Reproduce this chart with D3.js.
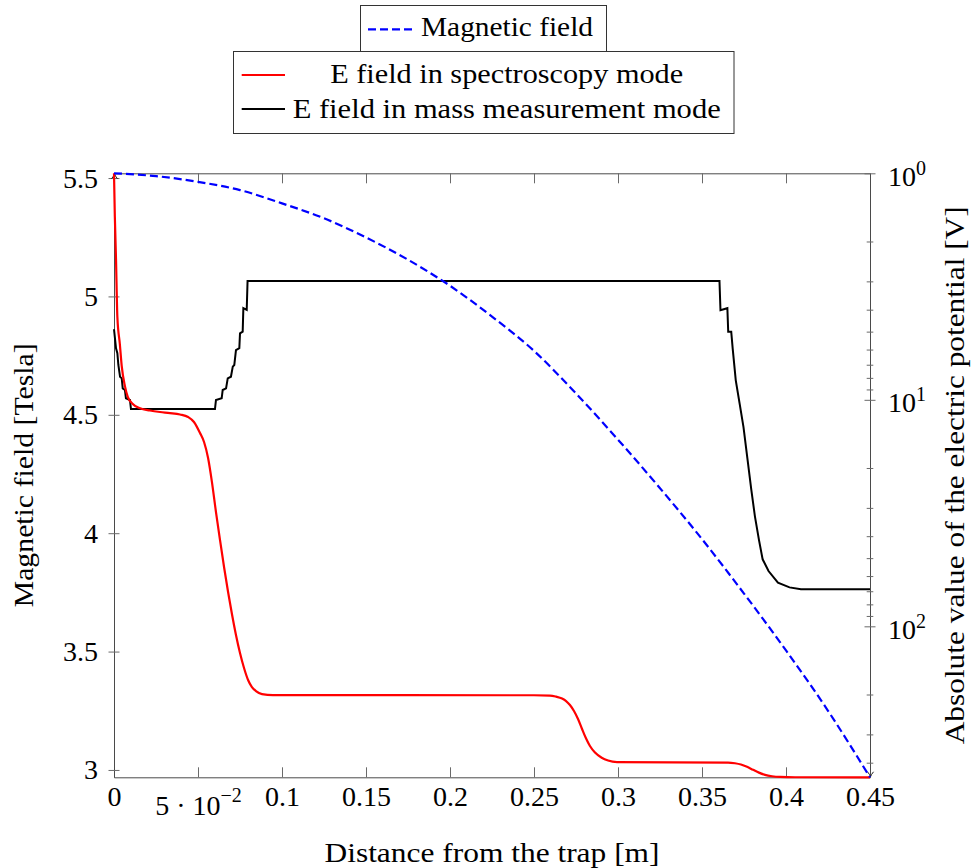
<!DOCTYPE html>
<html>
<head>
<meta charset="utf-8">
<script src="https://cdn.jsdelivr.net/npm/d3@7"></script>
<style>
  body { margin: 0; background: #ffffff; }
  svg { display: block; }
</style>
</head>
<body>
<svg id="chart" width="976" height="868"></svg>
<script>
// ---------------- data ----------------
const xTicks = [0, 0.05, 0.1, 0.15, 0.2, 0.25, 0.3, 0.35, 0.4, 0.45];
const xTickLabels = ["0", "5 · 10^−2", "0.1", "0.15", "0.2", "0.25", "0.3", "0.35", "0.4", "0.45"];
const yLeftTicks = [3, 3.5, 4, 4.5, 5, 5.5];
const yLeftTickLabels = ["3", "3.5", "4", "4.5", "5", "5.5"];
const yRightTicks = [1, 10, 100];
const yRightTickLabels = ["10^0", "10^1", "10^2"];
const yRightMinorTicks = [2, 3, 4, 5, 6, 7, 8, 9, 20, 30, 40, 50, 60, 70, 80, 90, 200, 300, 400];

// Magnetic field [Tesla] (left axis)
const blueX = [0, 0.025, 0.05, 0.075, 0.1, 0.125, 0.15, 0.175, 0.2, 0.225, 0.25, 0.275, 0.3, 0.325, 0.35, 0.375, 0.4, 0.425, 0.45];
const blueB = [5.520, 5.508, 5.484, 5.449, 5.393, 5.330, 5.249, 5.155, 5.045, 4.915, 4.770, 4.590, 4.395, 4.190, 3.975, 3.745, 3.505, 3.250, 2.969];

// E field in spectroscopy mode, |potential| [V] (right log axis)
const redX = [0, 0.0005, 0.0012, 0.0020, 0.0035, 0.0046, 0.0065, 0.0082, 0.0110, 0.0155,
              0.0214, 0.0274, 0.0333, 0.0393, 0.0441, 0.0476, 0.0512, 0.0536, 0.0560, 0.0583,
              0.0607, 0.0631, 0.0655, 0.0679, 0.0702, 0.0726, 0.0750, 0.0774, 0.0798, 0.0821,
              0.0845, 0.0881, 0.0946, 0.2500, 0.2595, 0.2631, 0.2667, 0.2691, 0.2714, 0.2738,
              0.2762, 0.2786, 0.2810, 0.2833, 0.2863, 0.2903, 0.2941, 0.2994, 0.3655, 0.3696,
              0.3732, 0.3768, 0.3804, 0.3839, 0.3875, 0.3917, 0.3964, 0.4054, 0.45];
const redV = [1.0, 1.55, 2.4, 4.3, 5.7, 7.1, 8.7, 9.7, 10.4, 10.9,
              11.15, 11.32, 11.44, 11.61, 11.91, 12.53, 14.02, 15.36, 18.07, 23.07,
              31.29, 41.59, 54.73, 70.56, 88.24, 109.2, 131.2, 152.8, 172.6, 185.4,
              193.1, 199.1, 201.1, 201.5, 202.1, 204.4, 208.4, 213.7, 222.6, 236.6,
              256.6, 284.1, 312.9, 337.7, 360.7, 380.3, 391.3, 397.3, 399.3, 402.2,
              407.5, 417.2, 430.1, 442.5, 452.5, 459.0, 462.3, 463.7, 464.0];

// E field in mass measurement mode, |potential| [V] (right log axis)
const blackX = [0, 0.0012, 0.0020, 0.0026, 0.0036, 0.0046, 0.0052, 0.0065, 0.0071, 0.0095,
                0.0101, 0.0601, 0.0607, 0.0641, 0.0647, 0.0667, 0.0677, 0.0696, 0.0707, 0.0716,
                0.0726, 0.0746, 0.0750, 0.0766, 0.0770, 0.0790, 0.0795, 0.3604, 0.3610, 0.3651,
                0.3656, 0.3674, 0.3683, 0.3701, 0.3724, 0.3747, 0.3770, 0.3793, 0.3815, 0.3839,
                0.3861, 0.3896, 0.3952, 0.4021, 0.4089, 0.45];
const blackV = [4.88, 5.92, 6.23, 7.02, 7.91, 8.04, 8.90, 9.05, 9.85, 10.02,
                10.98, 10.98, 10.02, 9.85, 9.05, 8.90, 8.04, 7.91, 7.14, 7.02,
                6.03, 5.92, 5.09, 5.00, 3.94, 4.01, 2.99, 2.99, 4.02, 3.94,
                5.00, 5.00, 5.97, 8.20, 10.4, 13.2, 18.1, 24.8, 32.7, 41.5,
                50.6, 57.0, 64.1, 67.3, 68.6, 68.6];

const seriesNames = ["Magnetic field", "E field in spectroscopy mode", "E field in mass measurement mode"];
const axisTitles = { x: "Distance from the trap [m]", yLeft: "Magnetic field [Tesla]", yRight: "Absolute value of the electric potential [V]" };

// ---------------- font detection ----------------
function pickFont(cands) {
  const c = document.createElement("canvas").getContext("2d");
  const s = "Magnetic field 0123456789 Wy";
  for (const f of cands) {
    for (const base of ["monospace", "sans-serif"]) {
      c.font = `28px ${base}`; const w0 = c.measureText(s).width;
      c.font = `28px "${f}", ${base}`; const w1 = c.measureText(s).width;
      if (Math.abs(w1 - w0) > 0.5) return `"${f}"`;
    }
  }
  return "serif";
}
const FONT = pickFont(["Liberation Serif", "DejaVu Serif", "Noto Serif", "Times New Roman", "Tinos"]);

// ---------------- layout ----------------
const L = 114, R = 870, T = 173.3, B = 777.3;
const FS = 28, SUPFS = 20;
const axisColor = "#4a4a4a", tickColor = "#6a6a6a";

const svg = d3.select("#chart");

const x = d3.scaleLinear().domain([0, 0.45]).range([L, R]);
const yL = d3.scaleLinear().domain(d3.extent(blueB)).range([B, T]);
const yR = d3.scaleLog().domain(d3.extent(redV.concat(blackV))).range([T, B]);

function renderLabel(sel, label, supShift) {
  sel.each(function () {
    const t = d3.select(this);
    const parts = label.split("^");
    t.text(null);
    t.append("tspan").text(parts[0]);
    if (parts.length > 1) {
      t.append("tspan").attr("font-size", SUPFS).attr("dy", -supShift).text(parts[1]);
    }
  });
}

function styleAxis(g) {
  g.attr("font-family", FONT).attr("font-size", FS);
  g.select(".domain").attr("stroke", axisColor).attr("stroke-width", 1);
  g.selectAll(".tick line").attr("stroke", tickColor).attr("stroke-width", 1);
  g.selectAll(".tick text").attr("fill", "#000");
}

// bottom axis
const gx = svg.append("g").attr("transform", `translate(0,${B})`)
  .call(d3.axisBottom(x).tickValues(xTicks).tickSizeInner(-10).tickSizeOuter(0).tickPadding(9)
    .tickFormat((d, i) => xTickLabels[i]));
styleAxis(gx);
gx.selectAll(".tick text").each(function (d, i) {
  const lab = xTickLabels[i];
  const t = d3.select(this);
  if (lab.includes("^")) {
    renderLabel(t, lab, 13);
    t.attr("dy", "1.03em");
  }
});

// top axis
const gxt = svg.append("g").attr("transform", `translate(0,${T})`)
  .call(d3.axisTop(x).tickValues(xTicks).tickSizeInner(-10).tickSizeOuter(0).tickFormat(""));
styleAxis(gxt);

// left axis
const gyl = svg.append("g").attr("transform", `translate(${L},0)`)
  .call(d3.axisLeft(yL).tickValues(yLeftTicks).tickSizeInner(6).tickSizeOuter(0).tickPadding(10)
    .tickFormat((d, i) => yLeftTickLabels[i]));
styleAxis(gyl);
gyl.selectAll(".tick line").attr("x1", 5.5).attr("x2", -5.5);

// right axis (log, reversed)
const gyr = svg.append("g").attr("transform", `translate(${R},0)`)
  .call(d3.axisRight(yR).tickValues(yRightTicks).tickSizeInner(5.5).tickSizeOuter(0).tickPadding(12.5)
    .tickFormat((d, i) => yRightTickLabels[i]));
styleAxis(gyr);
gyr.selectAll(".tick line").attr("x1", -5.5);
gyr.selectAll(".tick text").attr("dy", "0.43em").each(function (d, i) {
  renderLabel(d3.select(this), yRightTickLabels[i], 11);
});
const gyrm = svg.append("g").attr("transform", `translate(${R},0)`)
  .call(d3.axisRight(yR).tickValues(yRightMinorTicks).tickSizeInner(3.3).tickSizeOuter(0).tickFormat(""));
styleAxis(gyrm);
gyrm.select(".domain").remove();
gyrm.selectAll(".tick line").attr("x1", -3.3);

// axis arrow heads (top of left axis, bottom of right axis)
function arrowHead(cx, cy, dir) {
  const s = dir;
  svg.append("path")
    .attr("d", `M${cx - 3},${cy + s * 5} Q${cx - 0.5},${cy + s * 2} ${cx},${cy} Q${cx + 0.5},${cy + s * 2} ${cx + 3},${cy + s * 5}`)
    .attr("fill", "none").attr("stroke", "#222").attr("stroke-width", 1);
}
arrowHead(x(0) + 0.5, yL.range()[1] + 0.5, 1);
arrowHead(x(0.45) + 0.5, yR.range()[1] - 0.5, -1);

// ---------------- series ----------------
const blueData = blueX.map((v, i) => [v, blueB[i]]);
const redData = redX.map((v, i) => [v, redV[i]]);
const blackData = blackX.map((v, i) => [v, blackV[i]]);

const lineBlue = d3.line().x(d => x(d[0])).y(d => yL(d[1])).curve(d3.curveMonotoneX);
const lineRed = d3.line().x(d => x(d[0])).y(d => yR(d[1])).curve(d3.curveMonotoneX);
const lineBlack = d3.line().x(d => x(d[0])).y(d => yR(d[1])).curve(d3.curveLinear);

svg.append("path").datum(blackData).attr("d", lineBlack)
  .attr("fill", "none").attr("stroke", "#000").attr("stroke-width", 2).attr("stroke-linejoin", "miter");
svg.append("path").datum(redData).attr("d", lineRed)
  .attr("fill", "none").attr("stroke", "#ff0000").attr("stroke-width", 2.2);
svg.append("path").datum(blueData).attr("d", lineBlue)
  .attr("fill", "none").attr("stroke", "#0000ff").attr("stroke-width", 2.2).attr("stroke-dasharray", "8,4");

// ---------------- axis titles ----------------
function title(sel) { return sel.attr("font-family", FONT).attr("font-size", FS).attr("fill", "#000"); }
title(svg.append("text")).attr("x", (L + R) / 2).attr("y", 862).attr("text-anchor", "middle")
  .attr("textLength", 335).attr("lengthAdjust", "spacingAndGlyphs").text(axisTitles.x);
title(svg.append("text")).attr("transform", `translate(33,${(T + B) / 2}) rotate(-90)`).attr("text-anchor", "middle")
  .attr("textLength", 264).attr("lengthAdjust", "spacingAndGlyphs").text(axisTitles.yLeft);
title(svg.append("text")).attr("transform", `translate(964,${(T + B) / 2}) rotate(-90)`).attr("text-anchor", "middle")
  .attr("textLength", 538).attr("lengthAdjust", "spacingAndGlyphs").text(axisTitles.yRight);

// ---------------- legends ----------------
const lg1 = svg.append("g");
lg1.append("rect").attr("x", 360.5).attr("y", 5.5).attr("width", 246).attr("height", 46)
  .attr("fill", "#fff").attr("stroke", "#333").attr("stroke-width", 1);
lg1.append("line").attr("x1", 368).attr("x2", 413).attr("y1", 29.3).attr("y2", 29.3)
  .attr("stroke", "#0000ff").attr("stroke-width", 2.2).attr("stroke-dasharray", "8,4");
title(lg1.append("text")).attr("x", 421).attr("y", 36)
  .attr("textLength", 172).attr("lengthAdjust", "spacingAndGlyphs").text(seriesNames[0]);

const lg2 = svg.append("g");
lg2.append("rect").attr("x", 233.5).attr("y", 51.5).attr("width", 500.5).attr("height", 82)
  .attr("fill", "#fff").attr("stroke", "#333").attr("stroke-width", 1);
lg2.append("line").attr("x1", 241.7).attr("x2", 285).attr("y1", 75).attr("y2", 75)
  .attr("stroke", "#ff0000").attr("stroke-width", 2.2);
title(lg2.append("text")).attr("x", 506.7).attr("y", 83.3).attr("text-anchor", "middle")
  .attr("textLength", 353).attr("lengthAdjust", "spacingAndGlyphs").text(seriesNames[1]);
lg2.append("line").attr("x1", 241.7).attr("x2", 285).attr("y1", 109).attr("y2", 109)
  .attr("stroke", "#000").attr("stroke-width", 2);
title(lg2.append("text")).attr("x", 506.7).attr("y", 118.3).attr("text-anchor", "middle")
  .attr("textLength", 428).attr("lengthAdjust", "spacingAndGlyphs").text(seriesNames[2]);
</script>
</body>
</html>
